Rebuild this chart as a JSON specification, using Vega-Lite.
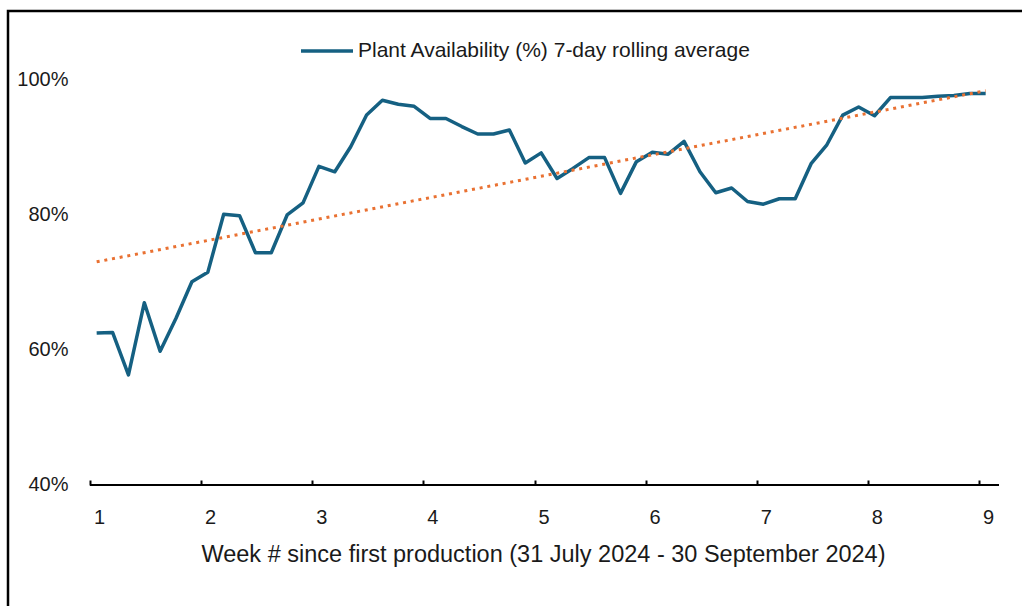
{
  "$schema": "https://vega.github.io/schema/vega-lite/v6.json",
  "width": 1014,
  "height": 595,
  "autosize": {"type": "none"},
  "padding": {"left": 8, "top": 11, "right": 0, "bottom": 0},
  "background": "white",
  "config": {
    "view": {"stroke": "black", "strokeWidth": 2.5, "strokeDash": [1014, 1609, 595, 1]},
    "font": "Liberation Sans",
    "axis": {"grid": false, "labelFont": "Liberation Sans", "titleFont": "Liberation Sans", "labelColor": "#1a1a1a", "titleColor": "#1a1a1a"},
    "legend": {"labelFont": "Liberation Sans"}
  },
  "data": {
    "values": [
      {"week": 1.060, "value": 0.625},
      {"week": 1.203, "value": 0.626},
      {"week": 1.346, "value": 0.563},
      {"week": 1.489, "value": 0.670},
      {"week": 1.631, "value": 0.598},
      {"week": 1.774, "value": 0.647},
      {"week": 1.917, "value": 0.701},
      {"week": 2.060, "value": 0.715},
      {"week": 2.203, "value": 0.801},
      {"week": 2.346, "value": 0.799},
      {"week": 2.489, "value": 0.744},
      {"week": 2.631, "value": 0.744},
      {"week": 2.774, "value": 0.800},
      {"week": 2.917, "value": 0.818},
      {"week": 3.060, "value": 0.872},
      {"week": 3.203, "value": 0.864},
      {"week": 3.346, "value": 0.901},
      {"week": 3.489, "value": 0.948},
      {"week": 3.631, "value": 0.970},
      {"week": 3.774, "value": 0.964},
      {"week": 3.917, "value": 0.961},
      {"week": 4.060, "value": 0.943},
      {"week": 4.203, "value": 0.943},
      {"week": 4.346, "value": 0.931},
      {"week": 4.489, "value": 0.920},
      {"week": 4.631, "value": 0.920},
      {"week": 4.774, "value": 0.926},
      {"week": 4.917, "value": 0.877},
      {"week": 5.060, "value": 0.892},
      {"week": 5.203, "value": 0.854},
      {"week": 5.346, "value": 0.869},
      {"week": 5.489, "value": 0.885},
      {"week": 5.631, "value": 0.885},
      {"week": 5.774, "value": 0.832},
      {"week": 5.917, "value": 0.879},
      {"week": 6.060, "value": 0.893},
      {"week": 6.203, "value": 0.890},
      {"week": 6.346, "value": 0.909},
      {"week": 6.489, "value": 0.864},
      {"week": 6.631, "value": 0.833},
      {"week": 6.774, "value": 0.840},
      {"week": 6.917, "value": 0.820},
      {"week": 7.060, "value": 0.816},
      {"week": 7.203, "value": 0.824},
      {"week": 7.346, "value": 0.824},
      {"week": 7.489, "value": 0.876},
      {"week": 7.631, "value": 0.904},
      {"week": 7.774, "value": 0.948},
      {"week": 7.917, "value": 0.960},
      {"week": 8.060, "value": 0.947},
      {"week": 8.203, "value": 0.974},
      {"week": 8.346, "value": 0.974},
      {"week": 8.489, "value": 0.974},
      {"week": 8.631, "value": 0.976},
      {"week": 8.774, "value": 0.977},
      {"week": 8.917, "value": 0.980},
      {"week": 9.060, "value": 0.980}
    ]
  },
  "layer": [
    {
      "mark": {"type": "line", "strokeWidth": 3.5, "strokeJoin": "round"},
      "encoding": {
        "x": {
          "field": "week", "type": "quantitative",
          "scale": {"domain": [0.26209, 9.38695], "nice": false, "zero": false},
          "axis": {
            "orient": "bottom", "offset": -121, "values": [1, 2, 3, 4, 5, 6, 7, 8, 9], "format": "d",
            "domain": false, "ticks": true, "tickSize": -5, "tickWidth": 2, "tickColor": "black",
            "labelFontSize": 20, "labelPadding": 27, "labelOffset": 9, "labelFlush": false,
            "title": "Week # since first production (31 July 2024 - 30 September 2024)",
            "titleFontSize": 23.5, "titleFontWeight": "normal", "titleX": 535, "titleY": 76,
            "titleBaseline": "alphabetic", "titleAnchor": "middle", "titleAlign": "center"
          }
        },
        "y": {
          "field": "value", "type": "quantitative",
          "scale": {"domain": [0.2207, 1.1022], "nice": false, "zero": false},
          "axis": {
            "orient": "left", "offset": -60, "values": [0.4, 0.6, 0.8, 1.0], "format": ".0%",
            "domain": false, "ticks": false, "labelFontSize": 20, "labelPadding": 0, "title": null
          }
        },
        "color": {
          "datum": "Plant Availability (%) 7-day rolling average", "type": "nominal",
          "scale": {"range": ["#156082"]},
          "legend": {
            "orient": "none", "legendX": 291, "legendY": 12, "title": null,
            "symbolType": "stroke", "symbolSize": 2704, "symbolStrokeWidth": 3.5,
            "labelFontSize": 21, "labelColor": "#1a1a1a", "labelOffset": 3, "labelLimit": 700
          }
        }
      }
    },
    {
      "mark": {"type": "rule", "color": "black", "strokeWidth": 2},
      "encoding": {
        "x": {"datum": 1, "type": "quantitative"},
        "x2": {"datum": 9.18},
        "y": {"datum": 0.4, "type": "quantitative"}
      }
    },
    {
      "transform": [{"regression": "value", "on": "week"}],
      "mark": {"type": "line", "color": "#E97132", "strokeWidth": 3, "strokeDash": [3, 4.8]},
      "encoding": {
        "x": {"field": "week", "type": "quantitative"},
        "y": {"field": "value", "type": "quantitative"}
      }
    }
  ]
}
